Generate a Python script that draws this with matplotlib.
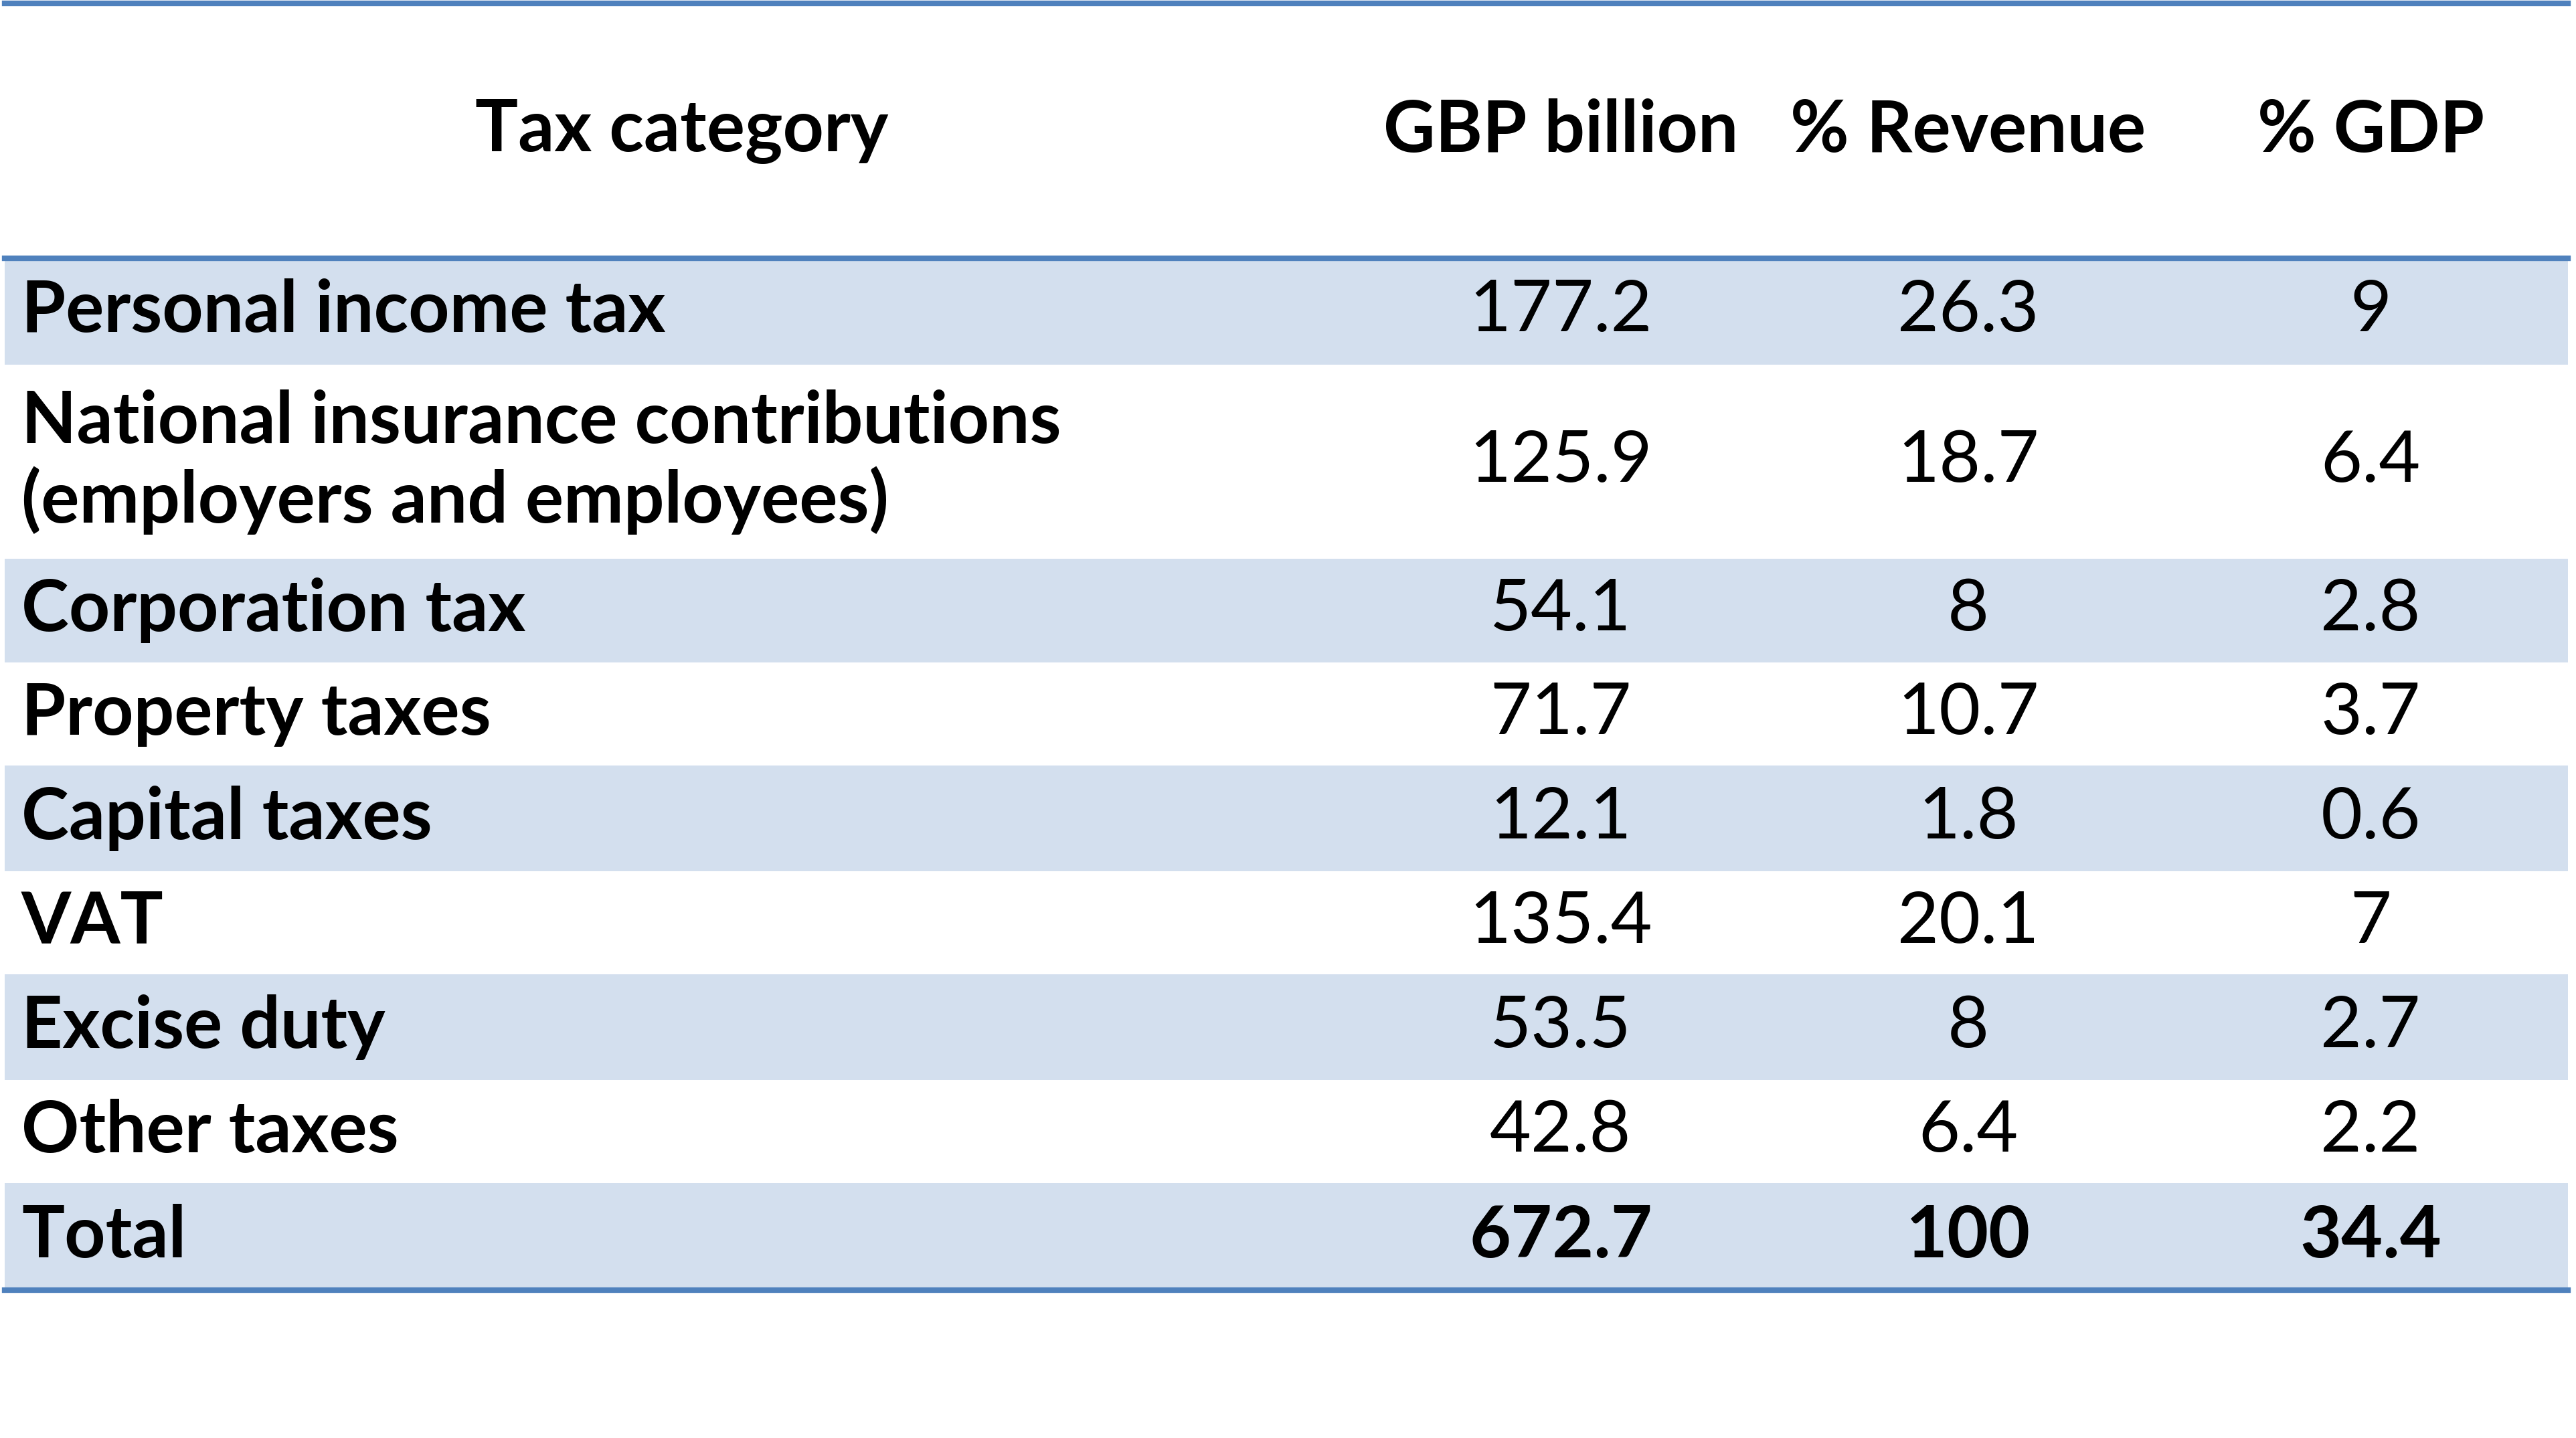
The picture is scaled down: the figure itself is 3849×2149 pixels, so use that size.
import matplotlib.pyplot as plt
from matplotlib.patches import Rectangle

categories = ["Personal income tax",
              "National insurance contributions\n(employers and employees)",
              "Corporation tax", "Property taxes", "Capital taxes", "VAT",
              "Excise duty", "Other taxes", "Total"]
gbp = ["177.2", "125.9", "54.1", "71.7", "12.1", "135.4", "53.5", "42.8", "672.7"]
rev = ["26.3", "18.7", "8", "10.7", "1.8", "20.1", "8", "6.4", "100"]
gdp = ["9", "6.4", "2.8", "3.7", "0.6", "7", "2.7", "2.2", "34.4"]
headers = ["Tax category", "GBP billion", "% Revenue", "% GDP"]

W, H = 1568, 875
row_edges = [157, 222, 340, 403, 466, 530, 593, 657, 720, 785]
col_x = [950, 1198, 1443]
line_c = "#4F81BD"
shade = "#D3DFEE"
fs = 77

fig = plt.figure(figsize=(38.49, 21.49), dpi=100)
ax = fig.add_axes([0, 0, 1, 1])
ax.set_xlim(0, W)
ax.set_ylim(H, 0)
ax.axis('off')

for i in range(len(categories)):
    y0, y1 = row_edges[i], row_edges[i + 1]
    if i % 2 == 0:
        ax.add_patch(Rectangle((3, y0), 1560, y1 - y0, color=shade, lw=0))
    yc = (y0 + y1) / 2
    ax.text(13, yc, categories[i], fontsize=fs, fontweight='bold', family='Lato',
            va='center', ha='left', linespacing=1.2)
    bold = 'bold' if categories[i] == "Total" else 'normal'
    for x, v in zip(col_x, (gbp[i], rev[i], gdp[i])):
        ax.text(x, yc, v, fontsize=fs, fontweight=bold, family='Lato',
                va='center', ha='center')

for x, h in zip([415] + col_x, headers):
    ax.text(x, 80, h, fontsize=fs, fontweight='bold', family='Lato',
            va='center', ha='center')

for y in (2, 157, 785):
    ax.plot([3, 1563], [y, y], color=line_c, lw=6)

fig.savefig("out.png", dpi=100)
